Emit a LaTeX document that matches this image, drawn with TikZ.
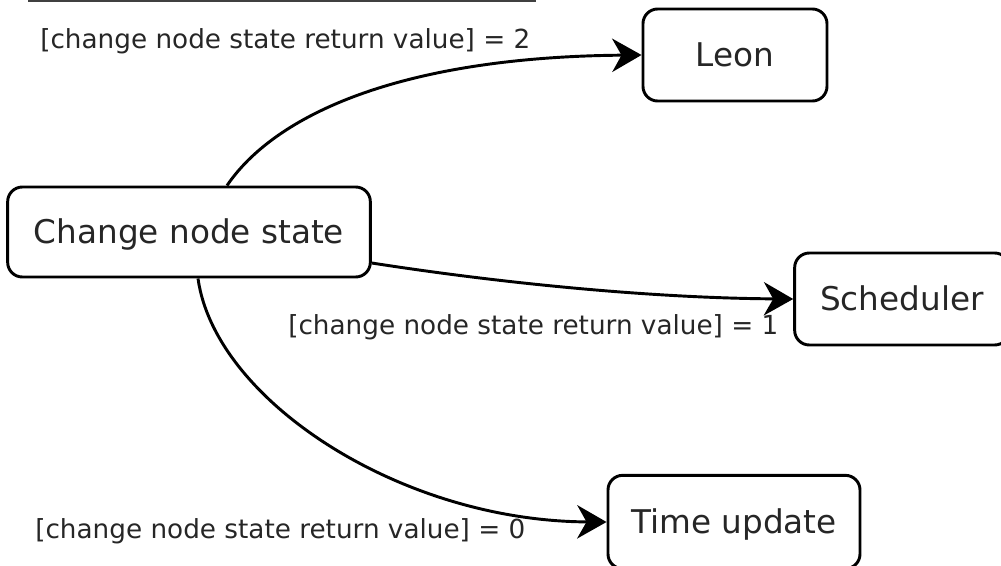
\documentclass[tikz,border=0pt]{standalone}
\usepackage{fontspec}
\setmainfont{DejaVu Sans}
\usetikzlibrary{arrows.meta}
\begin{document}
\begin{tikzpicture}[x=0.75pt,y=-0.75pt,
  state/.style={draw=black, line width=2.2pt, rounded corners=11pt, inner sep=0pt,
    font=\fontsize{24.5}{28}\selectfont, text height=17.6pt, text depth=0pt, align=center, text=black!85},
  guard/.style={inner sep=0pt, anchor=base west, font=\fontsize{19.7}{23}\selectfont, text=black!85},
  flow/.style={line width=2.2pt, -{Stealth[length=22pt,width=25pt,inset=7pt]}}]
\useasboundingbox (0,0) rectangle (1001,565);
\begin{scope}
\clip (0,0) rectangle (1001,565);
\draw[line width=1.5pt, black!75] (28,1) -- (536,1);
\node[state, minimum width=272pt, minimum height=67.5pt] (change) at (189,232) {Change node state};
\node[state, minimum width=138pt, minimum height=69pt] (leon) at (735,55) {Leon};
\node[state, minimum width=161pt, minimum height=69pt] (sched) at (902,299) {Scheduler};
\node[state, minimum width=189pt, minimum height=70pt] (time) at (734,522) {Time update};
\node[guard] (l2) at (40,48) {[change node state return value] = 2};
\node[guard] (l1) at (288,334) {[change node state return value] = 1};
\node[guard] (l0) at (35,538) {[change node state return value] = 0};
\draw[flow] (change.north -| 227,0) .. controls (275,115) and (400,57) .. (leon.west);
\draw[flow] (change.east |- 0,263) .. controls (500,283) and (650,298) .. (sched.west);
\draw[flow] (change.south -| 198,0) .. controls (215,400) and (400,521) .. (time.west);
\end{scope}
\end{tikzpicture}
\end{document}
